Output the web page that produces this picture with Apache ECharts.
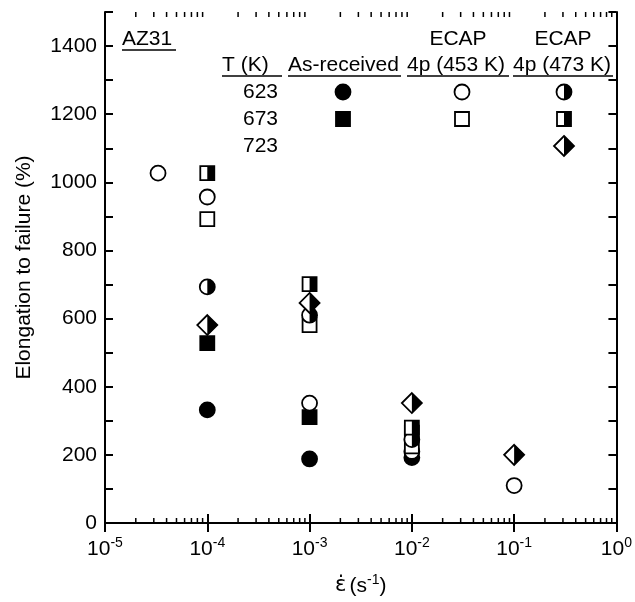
<!DOCTYPE html>
<html>
<head>
<meta charset="utf-8">
<script src="https://cdn.jsdelivr.net/npm/echarts@6/dist/echarts.min.js"></script>
<style>
  html, body { margin: 0; padding: 0; background: #fff; }
  #chart { width: 635px; height: 602px; }
</style>
</head>
<body>
<div id="chart"></div>
<script>
// strain rate (s^-1) and elongation to failure (%)
const asReceived623 = [[1e-4, 332], [1e-3, 188], [1e-2, 192]]
const asReceived673 = [[1e-4, 528], [1e-3, 311], [1e-2, 265]]
const ecap453_623 = [[3.3e-5, 1027], [1e-4, 957], [1e-3, 352], [1e-2, 210], [1e-1, 110]]
const ecap453_673 = [[1e-4, 892], [1e-3, 581], [1e-2, 225]]
const ecap473_623 = [[1e-4, 693], [1e-3, 610], [1e-2, 245]]
const ecap473_673 = [[1e-4, 1027], [1e-3, 701], [1e-2, 280]]
const ecap473_723 = [[1e-4, 581], [1e-3, 646], [1e-2, 352], [1e-1, 200]]

const yLabels = [0, 200, 400, 600, 800, 1000, 1200, 1400]
const decades = [1e-5, 1e-4, 1e-3, 1e-2, 1e-1]
const minorSteps = [2, 3, 4, 5, 6, 7, 8, 9]

const FONT = '"Liberation Sans", Arial, sans-serif'
const FS = 21

// minor ticks of the log axis
const minorTicks = []
decades.forEach(d => minorSteps.forEach(k => minorTicks.push([k * d])))

// marker shapes: circle / square / diamond, filled / open / half (right half black)
function marker(kind, fill, x, y) {
	const stroke = { stroke: "#000", lineWidth: 1.8 }
	const base = fill === "filled" ? "#000" : "#fff"
	const out = []
	if (kind === "circle") {
		out.push({ type: "circle", shape: { cx: x, cy: y, r: 7.5 }, style: { fill: base, ...stroke } })
		if (fill === "half") {
			out.push({
				type: "sector",
				shape: { cx: x, cy: y, r: 7.5, r0: 0, startAngle: -Math.PI / 2, endAngle: Math.PI / 2, clockwise: true },
				style: { fill: "#000" },
			})
		}
	} else if (kind === "square") {
		out.push({ type: "rect", shape: { x: x - 7, y: y - 7, width: 14, height: 14 }, style: { fill: base, ...stroke } })
		if (fill === "half") {
			out.push({ type: "rect", shape: { x: x, y: y - 7, width: 7, height: 14 }, style: { fill: "#000" } })
		}
	} else {
		out.push({
			type: "polygon",
			shape: { points: [[x, y - 10], [x + 10, y], [x, y + 10], [x - 10, y]] },
			style: { fill: base, ...stroke },
		})
		if (fill === "half") {
			out.push({ type: "polygon", shape: { points: [[x, y - 10], [x + 10, y], [x, y + 10]] }, style: { fill: "#000" } })
		}
	}
	return out
}

function markerSeries(name, data, kind, fill) {
	return {
		name: name,
		type: "custom",
		data: data,
		encode: { x: 0, y: 1 },
		clip: false,
		renderItem: (params, api) => {
			const p = api.coord([api.value(0), api.value(1)])
			return { type: "group", children: marker(kind, fill, p[0], p[1]) }
		},
	}
}

function text(str, x, y, align) {
	return {
		type: "text",
		style: { text: str, x: x, y: y, font: FS + "px " + FONT, fill: "#000", align: align || "left", verticalAlign: "middle" },
	}
}

function uline(x1, x2, y) {
	return { type: "line", shape: { x1: x1, y1: y, x2: x2, y2: y }, style: { stroke: "#000", lineWidth: 1.5 } }
}

const legendGraphic = [
	text("AZ31", 122, 39), uline(122, 176, 50),
	text("ECAP", 458, 39, "center"), text("ECAP", 563, 39, "center"),
	text("T (K)", 222, 65), text("As-received", 288, 65), text("4p (453 K)", 407, 65), text("4p (473 K)", 513, 65),
	uline(222, 282, 76), uline(288, 401, 76), uline(407, 509, 76), uline(513, 613, 76),
	text("623", 278, 92, "right"), text("673", 278, 119, "right"), text("723", 278, 146, "right"),
	{ type: "group", children: marker("circle", "filled", 343, 92) },
	{ type: "group", children: marker("square", "filled", 343, 119) },
	{ type: "group", children: marker("circle", "open", 462, 92) },
	{ type: "group", children: marker("square", "open", 462, 119) },
	{ type: "group", children: marker("circle", "half", 564, 92) },
	{ type: "group", children: marker("square", "half", 564, 119) },
	{ type: "group", children: marker("diamond", "half", 564, 146) },
]

const axisLine = { show: true, lineStyle: { color: "#000", width: 2 } }

const chart = echarts.init(document.getElementById("chart"))
chart.setOption({
	animation: false,
	backgroundColor: "#fff",
	grid: { left: 105, right: 16, top: 12, bottom: 79 },
	xAxis: [
		{
			type: "log",
			logBase: 10,
			min: 1e-5,
			max: 1,
			splitNumber: 5,
			position: "bottom",
			axisLine: axisLine,
			axisTick: { inside: true, length: 9, lineStyle: { color: "#000", width: 2 } },
			splitLine: { show: false },
			axisLabel: {
				margin: 13,
				showMinLabel: true,
				showMaxLabel: true,
				formatter: v => "{b|10}{s|" + Math.round(Math.log10(v)) + "}",
				rich: {
					b: { fontSize: FS, fontFamily: FONT, color: "#000", lineHeight: 26 },
					s: { fontSize: 14, fontFamily: FONT, color: "#000", verticalAlign: "top", lineHeight: 14 },
				},
			},
			name: "{e|ε̇} {n|(s}{s|-1}{n|)}",
			nameLocation: "middle",
			nameGap: 50,
			nameTextStyle: {
				rich: {
					e: { fontSize: FS, fontFamily: '"DejaVu Sans"', color: "#000", lineHeight: 26 },
					n: { fontSize: FS, fontFamily: FONT, color: "#000", lineHeight: 26 },
					s: { fontSize: 14, fontFamily: FONT, color: "#000", verticalAlign: "top", lineHeight: 14 },
				},
			},
		},
		{
			type: "log",
			logBase: 10,
			min: 1e-5,
			max: 1,
			splitNumber: 5,
			position: "top",
			axisLine: axisLine,
			axisTick: { inside: true, length: 9, lineStyle: { color: "#000", width: 2 } },
			axisLabel: { show: false },
			splitLine: { show: false },
		},
	],
	yAxis: [
		{
			type: "value",
			min: 0,
			max: 1500,
			interval: 100,
			position: "left",
			axisLine: axisLine,
			axisTick: { inside: true, length: 8, lineStyle: { color: "#000", width: 2 } },
			splitLine: { show: false },
			axisLabel: {
				margin: 8,
				color: "#000",
				fontSize: FS,
				fontFamily: FONT,
				formatter: v => (yLabels.indexOf(v) >= 0 ? String(v) : ""),
			},
			name: "Elongation to failure (%)",
			nameLocation: "middle",
			nameGap: 70,
			nameTextStyle: { color: "#000", fontSize: FS, fontFamily: FONT },
		},
		{
			type: "value",
			min: 0,
			max: 1500,
			interval: 100,
			position: "right",
			axisLine: axisLine,
			axisTick: { inside: true, length: 8, lineStyle: { color: "#000", width: 2 } },
			axisLabel: { show: false },
			splitLine: { show: false },
		},
	],
	graphic: legendGraphic,
	series: [
		{
			type: "custom",
			silent: true,
			data: minorTicks,
			encode: { x: 0 },
			clip: false,
			renderItem: (params, api) => {
				const b = api.coord([api.value(0), 0])
				const t = api.coord([api.value(0), 1500])
				const ls = { stroke: "#000", lineWidth: 1.5 }
				return {
					type: "group",
					children: [
						{ type: "line", shape: { x1: b[0], y1: b[1], x2: b[0], y2: b[1] - 5 }, style: ls },
						{ type: "line", shape: { x1: t[0], y1: t[1], x2: t[0], y2: t[1] + 5 }, style: ls },
					],
				}
			},
		},
		markerSeries("As-received 623 K", asReceived623, "circle", "filled"),
		markerSeries("As-received 673 K", asReceived673, "square", "filled"),
		markerSeries("ECAP 4p (453 K) 623 K", ecap453_623, "circle", "open"),
		markerSeries("ECAP 4p (453 K) 673 K", ecap453_673, "square", "open"),
		markerSeries("ECAP 4p (473 K) 623 K", ecap473_623, "circle", "half"),
		markerSeries("ECAP 4p (473 K) 673 K", ecap473_673, "square", "half"),
		markerSeries("ECAP 4p (473 K) 723 K", ecap473_723, "diamond", "half"),
	],
})

window.addEventListener("resize", () => chart.resize())
</script>
</body>
</html>
